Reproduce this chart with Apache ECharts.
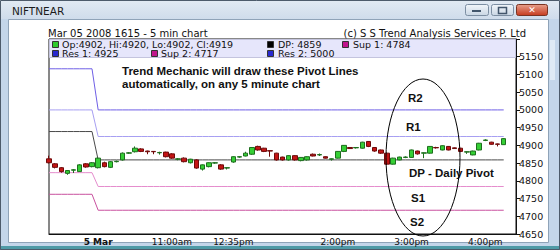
<!DOCTYPE html>
<html><head><meta charset="utf-8">
<script src="https://cdn.jsdelivr.net/npm/echarts@6/dist/echarts.min.js"></script>
<style>html,body{margin:0;padding:0;background:#fff;}#c{width:560px;height:250px;}</style>
</head><body><div id="c"></div>
<script>
// ---- data ----
const categories = ['4 Mar 15:40','4 Mar 15:45','4 Mar 15:50','4 Mar 15:55','4 Mar 16:00','4 Mar 16:05','4 Mar 16:10','4 Mar 16:15',
 '10:00','10:05','10:10','10:15','10:20','10:25','10:30','10:35','10:40','10:45','10:50','10:55','11:00',
 '11:05','11:10','11:15','11:20','11:25','11:30','12:20','12:25','12:30',
 '12:35','12:40','12:45','12:50','12:55','13:00','13:05','13:10','13:15','13:20','13:25','13:30','13:35','13:40','13:45','13:50','13:55',
 '14:00','14:05','14:10','14:15','14:20','14:25','14:30','14:35','14:40','14:45','14:50','14:55',
 '15:00','15:05','15:10','15:15','15:20','15:25','15:30','15:35','15:40','15:45','15:50','15:55',
 '16:00','16:05','16:10','16:15','16:20','16:25'];
const opens  = [4862,4848,4837,4821,4830,4826,4848,4840,
 4837,4851,4838,4854,4859,4878,4882,4890,4884,4883,4879,4881,4876,4861,4864,4851,4859,4833,4840,4850,4845,4836,
 4853,4867,4870,4875,4897,4892,4885,4878,4867,4859,4871,4857,4859,4875,4873,4868,4861,4864,4883,4894,4893,4892,
 4911,4894,4887,4878,4847,4859,4866,4866,4884,4878,4878,4894,4887,4897,4893,4892,4881,4873,4887,4914,4909,4904,4902];
const closes = [4851,4838,4826,4829,4831,4845,4839,4851,
 4864,4840,4854,4855,4878,4879,4892,4883,4882,4882,4880,4868,4864,4862,4854,4861,4836,4845,4851,4851,4833,4837,
 4868,4868,4878,4894,4887,4883,4884,4859,4859,4871,4859,4866,4868,4870,4874,4864,4862,4883,4900,4891,4894,4909,
 4897,4884,4878,4847,4864,4867,4867,4887,4876,4879,4897,4893,4899,4887,4891,4883,4882,4884,4906,4915,4903,4903,4919];
const lows   = [4849,4835,4823,4817,4822,4825,4837,4838,
 4835,4838,4836,4852,4857,4876,4880,4881,4875,4875,4874,4866,4862,4858,4852,4849,4834,4829,4838,4848,4831,4832,
 4851,4865,4869,4873,4885,4881,4868,4857,4857,4857,4857,4855,4857,4869,4870,4863,4857,4863,4881,4890,4891,4891,
 4895,4882,4876,4844,4846,4858,4864,4865,4874,4864,4877,4891,4886,4886,4890,4881,4876,4872,4886,4912,4902,4897,4902];
const highs  = [4871,4850,4839,4830,4833,4847,4850,4853,
 4866,4854,4856,4857,4880,4881,4897,4892,4885,4884,4882,4882,4878,4864,4866,4862,4861,4846,4852,4853,4847,4838,
 4869,4869,4882,4895,4899,4893,4886,4879,4868,4872,4872,4867,4869,4877,4877,4869,4863,4884,4901,4895,4895,4910,
 4912,4895,4888,4880,4865,4868,4869,4888,4885,4880,4898,4896,4900,4898,4894,4893,4883,4885,4907,4917,4910,4905,4920];
const dayStart = 8;
const levelNames  = ['Res 2','Res 1','DP','Sup 1','Sup 2'];
const prevLevels  = [5116, 5000, 4939, 4823, 4762];
const currLevels  = [5000, 4925, 4859, 4784, 4717];
const tickCats  = ['10:00','11:00','12:35','14:00','15:00','16:00'];
const tickTexts = ['5 Mar','11:00am','12:35pm','2:00pm','3:00pm','4:00pm'];
const yMin = 4650, yMax = 5200, yStep = 50;

// ---- build ----
const candles = opens.map((o,i)=>[o, closes[i], lows[i], highs[i]]);
const levelColors = ['#6f5fe6','#a79ff2','#4a4a4a','#e58ccd','#c9519f'];
const lineSeries = levelNames.map((n,k)=>({
  name:n, type:'line', symbol:'none', silent:true, z:1,
  lineStyle:{color:levelColors[k], width:1},
  data: opens.map((_,i)=> i<dayStart ? prevLevels[k] : currLevels[k])
}));
const last = opens.length-1;
const F = 'DejaVu Sans';
const LF = '9.5px "DejaVu Sans"';
const txt = (x,y,text,opt={}) => ({type:'text', x, y, z:100, style:Object.assign({text, fill:'#111', font:'10px "DejaVu Sans"', textVerticalAlign:'middle'}, opt)});
const sq = (x,y,c) => ({type:'rect', z:100, shape:{x:x+0.5,y:y+0.5,width:6,height:6}, style:{fill:c, stroke:'#333', lineWidth:1}});
const B = 'bold 11.5px "Liberation Sans"';
const grad = (a,b)=> new echarts.graphic.LinearGradient(0,0,0,1,[{offset:0,color:a},{offset:1,color:b}]);
const graphics = [
  // window chrome
  {type:'rect', z:-10, shape:{x:0,y:0,width:560,height:250}, style:{fill:'#c4d6ea'}},
  {type:'rect', z:-9, shape:{x:0,y:0,width:560,height:19}, style:{fill:grad('#e2eaf3','#cfdceb')}},
  {type:'rect', z:-9, shape:{x:0,y:246,width:560,height:4}, style:{fill:'#4f9aa6'}},
  {type:'rect', z:-9, shape:{x:0.5,y:0.5,width:559,height:249}, style:{fill:'none', stroke:'#4d5b6b', lineWidth:1}},
  {type:'rect', z:-8, shape:{x:8.5,y:19.5,width:540,height:223}, style:{fill:'#ffffff', stroke:'#8fa3b8', lineWidth:1}},
  {type:'rect', z:-8, shape:{x:550,y:40,width:5,height:40}, style:{fill:'#dfeaf5'}},
  txt(12,11,'NIFTNEAR',{font:'10.5px "DejaVu Sans"', fill:'#1b1b1b'}),
  {type:'rect', z:-7, shape:{x:465.5,y:4.5,width:23,height:11,r:2}, style:{fill:grad('#f2f6fa','#c9d6e4'), stroke:'#7c8ea2'}},
  {type:'rect', z:-6, shape:{x:472,y:10,width:9,height:2}, style:{fill:'#42566c'}},
  {type:'rect', z:-7, shape:{x:491.5,y:4.5,width:22,height:11,r:2}, style:{fill:grad('#f2f6fa','#c9d6e4'), stroke:'#7c8ea2'}},
  {type:'rect', z:-6, shape:{x:498.5,y:7.5,width:8,height:6}, style:{fill:'none', stroke:'#42566c', lineWidth:1.5}},
  {type:'rect', z:-7, shape:{x:516.5,y:4.5,width:31,height:11,r:2}, style:{fill:grad('#e7a08c','#c63a1e'), stroke:'#7a3322'}},
  {type:'text', z:-6, x:532, y:10, style:{text:'✕', fill:'#fff', font:'bold 9px "DejaVu Sans"', textAlign:'center', textVerticalAlign:'middle'}},
  // headers
  txt(48,33,'Mar 05 2008 1615 - 5 min chart'),
  txt(526,33,'(c) S S Trend Analysis Services P. Ltd',{textAlign:'right'}),
  // legend box
  {type:'rect', z:90, shape:{x:49.5,y:39.5,width:466,height:18}, style:{fill:'#e6e6fb', stroke:'#c4c4de', lineWidth:1}},
  sq(52,41,'#2ecb2e'), txt(62,44.3,`Op:${opens[last]}, Hi:${highs[last]}, Lo:${lows[last]}, Cl:${closes[last]}`,{font:LF}),
  sq(267,41,'#000000'), txt(278,44.3,`DP: ${currLevels[2]}`,{font:LF}),
  sq(342,41,'#c0158c'), txt(353,44.3,`Sup 1: ${currLevels[3]}`,{font:LF}),
  sq(52,50,'#2828cf'), txt(62,53.8,`Res 1: ${currLevels[1]}`,{font:LF}),
  sq(151,50,'#c0158c'), txt(161,53.8,`Sup 2: ${currLevels[4]}`,{font:LF}),
  sq(267,50,'#2828cf'), txt(278,53.8,`Res 2: ${currLevels[0]}`,{font:LF}),
  // annotation
  txt(122,71,'Trend Mechanic will draw these Pivot Lines',{font:B}),
  txt(122,84,'automatically, on any 5 minute chart',{font:B}),
  txt(408,98,'R2',{font:B}), txt(406,127,'R1',{font:B}),
  txt(409,173,'DP - Daily Pivot',{font:B}),
  txt(411,198,'S1',{font:B}), txt(410,222,'S2',{font:B}),
  {type:'ellipse', z:100, shape:{cx:423,cy:157.5,rx:37,ry:78.5}, style:{fill:'none', stroke:'#000', lineWidth:1}}
];

const chart = echarts.init(document.getElementById('c'), null, {renderer:'svg'});
chart.setOption({
  animation:false,
  grid:{left:49, right:44, top:39, bottom:16, containLabel:false, outerBoundsMode:'none', show:true, borderColor:'#111', borderWidth:1, backgroundColor:'transparent'},
  xAxis:{type:'category', data:categories, boundaryGap:false,
    axisLine:{lineStyle:{color:'#111'}}, axisTick:{show:false}, splitLine:{show:false},
    axisLabel:{margin:3, color:'#111', fontFamily:F, fontSize:9,
      interval:(i,v)=>tickCats.includes(v),
      formatter:(v)=>{const k=tickCats.indexOf(v); if(k<0) return ''; return k===0?'{b|'+tickTexts[k]+'}':tickTexts[k];},
      rich:{b:{fontWeight:'bold', fontFamily:F, fontSize:9, color:'#111'}}}},
  yAxis:{type:'value', position:'right', min:yMin, max:yMax, interval:yStep, scale:true,
    axisLine:{show:true, lineStyle:{color:'#111'}}, axisTick:{show:true, length:4, lineStyle:{color:'#111'}},
    splitLine:{show:false},
    axisLabel:{margin:3, color:'#111', fontFamily:F, fontSize:9.5, formatter:(v)=> v>=yMax ? '' : String(v)}},
  graphic:graphics,
  series:[...lineSeries,
    {type:'candlestick', data:candles, barWidth:5, z:3,
     itemStyle:{color:'#35cf35', color0:'#c41414', borderColor:'#1e6e1e', borderColor0:'#6e0a0a', borderWidth:1}}]
});
</script></body></html>
